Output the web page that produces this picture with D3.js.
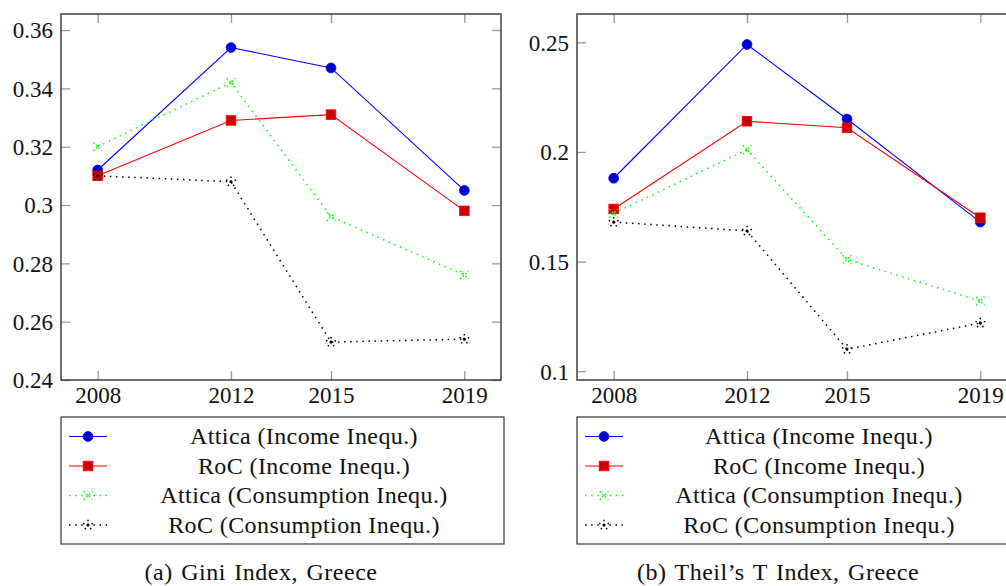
<!DOCTYPE html>
<html>
<head>
<meta charset="utf-8">
<script src="https://cdn.jsdelivr.net/npm/d3@7"></script>
<style>
  body { margin: 0; background: white; overflow: hidden; }
  svg { display: block; }
  svg text { font-family: "Liberation Serif", "DejaVu Serif", serif; }
  .tick text { font-size: 23px; fill: #111; }
  .legend-text { font-size: 24px; letter-spacing: 0.4px; }
  .caption { font-size: 24px; letter-spacing: 0.5px; word-spacing: 2px; }
</style>
</head>
<body>
<div id="chart"></div>
<script>
// ----------------------------------------
// DATA
// ----------------------------------------
const years = [2008, 2012, 2015, 2019];

const seriesNames = [
  "Attica (Income Inequ.)",
  "RoC (Income Inequ.)",
  "Attica (Consumption Inequ.)",
  "RoC (Consumption Inequ.)"
];

// (a) Gini index
const giniAtticaIncome = [0.312, 0.354, 0.347, 0.305];
const giniRocIncome = [0.310, 0.329, 0.331, 0.298];
const giniAtticaCons = [0.320, 0.342, 0.296, 0.276];
const giniRocCons = [0.310, 0.308, 0.253, 0.254];

// (b) Theil's T index
const theilAtticaIncome = [0.188, 0.249, 0.215, 0.168];
const theilRocIncome = [0.174, 0.214, 0.211, 0.170];
const theilAtticaCons = [0.172, 0.201, 0.151, 0.132];
const theilRocCons = [0.168, 0.164, 0.110, 0.122];

const giniTicks = [0.24, 0.26, 0.28, 0.30, 0.32, 0.34, 0.36];
const theilTicks = [0.10, 0.15, 0.20, 0.25];

const captions = ["(a) Gini Index, Greece", "(b) Theil\u2019s T Index, Greece"];

// ----------------------------------------
// STYLES
// ----------------------------------------
const styles = [
  { stroke: "#0000ff", dash: null, mark: "circle", fill: "#0000cc" },
  { stroke: "#ff0000", dash: null, mark: "square", fill: "#cc0000" },
  { stroke: "#00ff00", dash: "1.5 4.6", mark: "x", fill: "none" },
  { stroke: "#000000", dash: "1.5 4.6", mark: "star", fill: "none" }
];

const width = 1006, height = 586;

const svg = d3.select("#chart")
  .append("svg")
  .attr("width", width)
  .attr("height", height);

// ----------------------------------------
// PANEL
// ----------------------------------------
function drawPanel(opts) {
  const { left, plotW, top, bottom, yDomain, ticks, series, legendBox, caption, captionX } = opts;

  const x = d3.scaleLinear().domain([2006.9, 2020.1]).range([left, left + plotW]);
  const y = d3.scaleLinear().domain(yDomain).range([bottom, top]);

  const g = svg.append("g");
  const fmt = d => String(+d.toFixed(2));

  const styleAxis = sel => {
    sel.attr("font-family", null).attr("font-size", null);
    sel.select(".domain").remove();
    sel.selectAll(".tick line").attr("stroke", "#9a9a9a").attr("stroke-width", 1.3);
  };

  g.append("g")
    .attr("transform", `translate(${left},0)`)
    .call(d3.axisLeft(y).tickValues(ticks).tickFormat(fmt).tickSize(-9).tickPadding(8))
    .call(styleAxis)
    .selectAll("text").attr("dy", "0.34em");

  g.append("g")
    .attr("transform", `translate(${left + plotW},0)`)
    .call(d3.axisRight(y).tickValues(ticks).tickFormat("").tickSize(-9))
    .call(styleAxis);

  g.append("g")
    .attr("transform", `translate(0,${bottom})`)
    .call(d3.axisBottom(x).tickValues(years).tickFormat(d3.format("d")).tickSize(-9).tickPadding(8))
    .call(styleAxis)
    .selectAll("text").attr("dy", "0.66em");

  g.append("g")
    .attr("transform", `translate(0,${top})`)
    .call(d3.axisTop(x).tickValues(years).tickFormat("").tickSize(-9))
    .call(styleAxis);

  // frame
  g.append("rect")
    .attr("x", left).attr("y", top)
    .attr("width", plotW).attr("height", bottom - top)
    .attr("fill", "none")
    .attr("stroke", "#333")
    .attr("stroke-width", 1.4);

  const line = d3.line().x(d => x(d.year)).y(d => y(d.value));

  series.forEach((vals, i) => {
    const st = styles[i];
    const pts = years.map((yr, k) => ({ year: yr, value: vals[k] }));

    g.append("path")
      .datum(pts)
      .attr("fill", "none")
      .attr("stroke", st.stroke)
      .attr("stroke-width", st.dash ? 1.5 : 1.1)
      .attr("stroke-dasharray", st.dash)
      .attr("d", line);

    pts.forEach(p => drawMark(g, st, x(p.year), y(p.value)));
  });

  // legend
  const lg = g.append("g");
  lg.append("rect")
    .attr("x", legendBox.x).attr("y", legendBox.y)
    .attr("width", legendBox.w).attr("height", legendBox.h)
    .attr("fill", "white")
    .attr("stroke", "#333")
    .attr("stroke-width", 1.2);

  seriesNames.forEach((name, i) => {
    const st = styles[i];
    const cy = legendBox.y + 19.5 + i * 29.5;
    const sx = legendBox.x + 8;
    lg.append("line")
      .attr("x1", sx).attr("x2", sx + 38)
      .attr("y1", cy).attr("y2", cy)
      .attr("stroke", st.stroke)
      .attr("stroke-width", st.dash ? 1.5 : 1.1)
      .attr("stroke-dasharray", st.dash);
    drawMark(lg, st, sx + 19, cy);
    lg.append("text")
      .attr("class", "legend-text")
      .attr("x", legendBox.textX)
      .attr("y", cy)
      .attr("dy", "0.32em")
      .attr("text-anchor", "middle")
      .attr("fill", "#111")
      .text(name);
  });

  g.append("text")
    .attr("class", "caption")
    .attr("x", captionX)
    .attr("y", 580)
    .attr("text-anchor", "middle")
    .attr("fill", "#111")
    .text(caption);
}

// ----------------------------------------
// MARKS
// ----------------------------------------
function drawMark(g, st, cx, cy) {
  if (st.mark === "circle") {
    g.append("circle")
      .attr("cx", cx).attr("cy", cy).attr("r", 4.9)
      .attr("fill", st.fill).attr("stroke", st.stroke).attr("stroke-width", 0.8);
  } else if (st.mark === "square") {
    g.append("rect")
      .attr("x", cx - 4.8).attr("y", cy - 4.8)
      .attr("width", 9.6).attr("height", 9.6)
      .attr("fill", st.fill).attr("stroke", st.stroke).attr("stroke-width", 0.8);
  } else if (st.mark === "x") {
    const r = 4.2;
    g.append("path")
      .attr("d", `M${cx - r},${cy - r}L${cx + r},${cy + r}M${cx - r},${cy + r}L${cx + r},${cy - r}`)
      .attr("stroke", st.stroke).attr("stroke-width", 1.5)
      .attr("stroke-dasharray", "1.5 2.2").attr("fill", "none");
  } else {
    const r = 5.5;
    let d = "";
    for (let k = 0; k < 5; k++) {
      const a = -Math.PI / 2 + k * 2 * Math.PI / 5;
      d += `M${cx},${cy}L${cx + r * Math.cos(a)},${cy + r * Math.sin(a)}`;
    }
    g.append("path")
      .attr("d", d)
      .attr("stroke", st.stroke).attr("stroke-width", 1.5)
      .attr("stroke-dasharray", "1.5 2.2").attr("fill", "none");
  }
}

// ----------------------------------------
// DRAW BOTH PANELS
// ----------------------------------------
drawPanel({
  left: 61, plotW: 440, top: 14, bottom: 380,
  yDomain: [0.24, 0.3655],
  ticks: giniTicks,
  series: [giniAtticaIncome, giniRocIncome, giniAtticaCons, giniRocCons],
  legendBox: { x: 61, y: 417, w: 443, h: 127, textX: 304 },
  caption: captions[0], captionX: 261
});

drawPanel({
  left: 577, plotW: 440, top: 14, bottom: 380,
  yDomain: [0.096, 0.2629],
  ticks: theilTicks,
  series: [theilAtticaIncome, theilRocIncome, theilAtticaCons, theilRocCons],
  legendBox: { x: 577, y: 417, w: 443, h: 127, textX: 819 },
  caption: captions[1], captionX: 778
});
</script>
</body>
</html>
